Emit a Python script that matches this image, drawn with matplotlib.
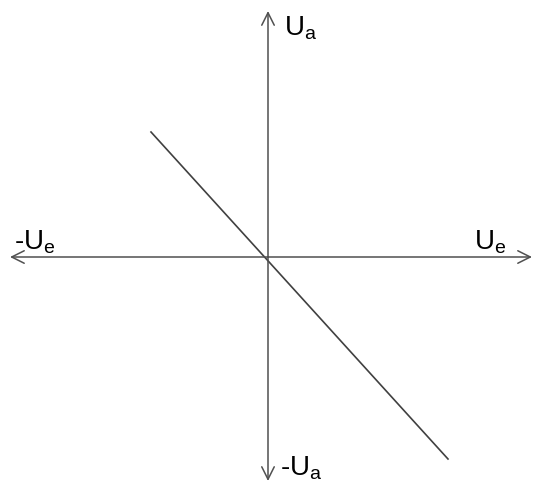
import matplotlib
matplotlib.use("Agg")
import matplotlib.pyplot as plt

plt.rcParams['font.family'] = ['Liberation Sans', 'DejaVu Sans']
plt.rcParams['mathtext.fontset'] = 'custom'
plt.rcParams['mathtext.rm'] = 'Liberation Sans'
plt.rcParams['mathtext.it'] = 'Liberation Sans'

# axis extents (data units, origin at the crossing)
x_axis = [-258, 264]
y_axis = [-224, 246]

# transfer line Ua = -k * Ue
line_x = [-117, 180]
line_y = [125, -202]

labels = {
    'ua': r'$\mathrm{U}_\mathrm{a}$',
    'mua': r'-$\mathrm{U}_\mathrm{a}$',
    'ue': r'$\mathrm{U}_\mathrm{e}$',
    'mue': r'-$\mathrm{U}_\mathrm{e}$',
}

col = '#505050'

fig = plt.figure(figsize=(5.38, 4.85), dpi=100)
ax = fig.add_axes([0, 0, 1, 1])
ax.set_xlim(-268, 270)
ax.set_ylim(-227, 258)
ax.axis('off')

arrow = dict(arrowstyle='->,head_length=0.9,head_width=0.45', color=col, lw=1.1,
             shrinkA=0, shrinkB=0)
# horizontal axis both ways
ax.annotate('', xy=(x_axis[1], 0), xytext=(0, 0), arrowprops=arrow)
ax.annotate('', xy=(x_axis[0], 0), xytext=(0, 0), arrowprops=arrow)
# vertical axis both ways
ax.annotate('', xy=(0, y_axis[1]), xytext=(0, 0), arrowprops=arrow)
ax.annotate('', xy=(0, y_axis[0]), xytext=(0, 0), arrowprops=arrow)

ax.plot(line_x, line_y, color='#404040', lw=1.2)

fs = 20
ax.text(16, y_axis[1] - 2, labels['ua'], fontsize=fs, ha='left', va='top')
ax.text(12, y_axis[0] + 14, labels['mua'], fontsize=fs, ha='left', va='center')
ax.text(x_axis[1] - 58, 2, labels['ue'], fontsize=fs, ha='left', va='bottom')
ax.text(x_axis[0] + 4, 2, labels['mue'], fontsize=fs, ha='left', va='bottom')

fig.savefig('out.png', dpi=100, facecolor='white')
